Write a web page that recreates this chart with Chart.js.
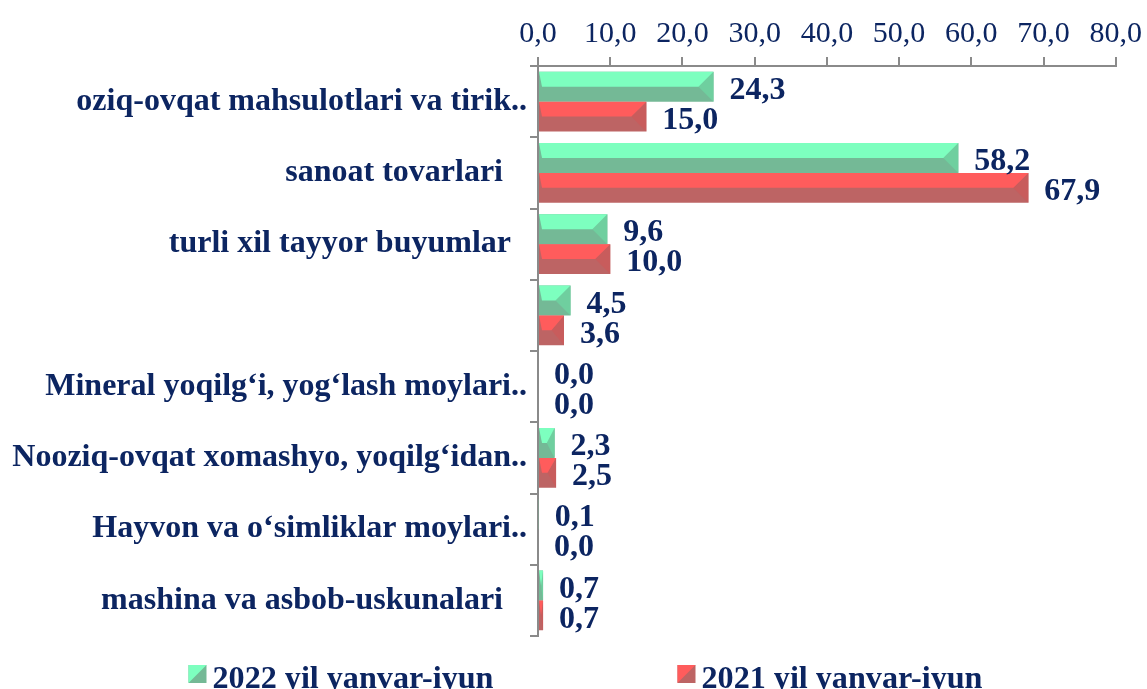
<!DOCTYPE html>
<html>
<head>
<meta charset="utf-8">
<script src="https://cdn.jsdelivr.net/npm/chart.js@4/dist/chart.umd.min.js"></script>
<style>
  html, body { margin: 0; padding: 0; background: #ffffff; }
  #wrap { width: 1147px; height: 689px; position: relative; }
</style>
</head>
<body>
<div id="wrap"><canvas id="c"></canvas></div>
<script>
const categories = [
  'oziq-ovqat mahsulotlari va tirik..',
  'sanoat tovarlari   ',
  'turli xil tayyor buyumlar  ',
  '',
  'Mineral yoqilg\u2018i, yog\u2018lash moylari..',
  'Nooziq-ovqat xomashyo, yoqilg\u2018idan..',
  'Hayvon va o\u2018simliklar moylari..',
  'mashina va asbob-uskunalari   '
];
const seriesNames = ['2022 yil yanvar-iyun', '2021 yil yanvar-iyun'];
const values2022 = [24.3, 58.2, 9.6, 4.5, 0.0, 2.3, 0.1, 0.7];
const values2021 = [15.0, 67.9, 10.0, 3.6, 0.0, 2.5, 0.0, 0.7];
const xTicks = [0, 10, 20, 30, 40, 50, 60, 70, 80];

const NAVY = '#0c2561';
const SERIF = '"Liberation Serif", "Times New Roman", serif';
const palette = [
  { light: '#7dffbf', dark: '#74b996', mid: '#6fcf9f' },
  { light: '#ff5c5c', dark: '#bd6464', mid: '#c85c5c' }
];
const fmt = v => v.toFixed(1).replace('.', ',');

const bevelPlugin = {
  id: 'bevel',
  afterDatasetsDraw(chart) {
    const ctx = chart.ctx;
    ctx.save();
    chart.data.datasets.forEach((ds, di) => {
      const meta = chart.getDatasetMeta(di);
      const col = palette[di];
      meta.data.forEach(el => {
        const p = el.getProps(['x', 'y', 'base', 'height'], true);
        const left = Math.min(p.base, p.x), right = Math.max(p.base, p.x);
        const w = right - left;
        if (w < 0.5) return;
        const top = p.y - p.height / 2, bot = p.y + p.height / 2, mid = p.y;
        const bev = Math.min(p.height / 2, w / 2);
        const lbev = Math.min(3, w / 2);
        ctx.fillStyle = col.mid;
        ctx.beginPath();
        ctx.moveTo(right, top); ctx.lineTo(right, bot); ctx.lineTo(right - bev, mid); ctx.closePath();
        ctx.fill();
        ctx.fillStyle = col.light;
        ctx.beginPath();
        ctx.moveTo(left, top); ctx.lineTo(right, top); ctx.lineTo(right - bev, mid); ctx.lineTo(left + lbev, mid); ctx.closePath();
        ctx.fill();
      });
    });
    ctx.restore();
  }
};

const valueLabelPlugin = {
  id: 'valueLabels',
  afterDatasetsDraw(chart) {
    const ctx = chart.ctx;
    ctx.save();
    ctx.font = 'bold 32px ' + SERIF;
    ctx.fillStyle = NAVY;
    ctx.textAlign = 'left';
    ctx.textBaseline = 'middle';
    chart.data.datasets.forEach((ds, di) => {
      const meta = chart.getDatasetMeta(di);
      meta.data.forEach((el, i) => {
        const p = el.getProps(['x', 'y'], true);
        ctx.fillText(fmt(ds.data[i]), p.x + 16, p.y + 4);
      });
    });
    ctx.restore();
  }
};

const legendPlugin = {
  id: 'customLegend',
  afterDraw(chart) {
    const ctx = chart.ctx;
    ctx.save();
    ctx.font = 'bold 32px ' + SERIF;
    const targetW = 281;
    const box = 18, gapBox = 6, gapItems = 184;
    const items = chart.data.datasets.map((ds, di) => {
      const tw = ctx.measureText(ds.label).width;
      return { label: ds.label, tw, sx: targetW / tw, col: palette[di] };
    });
    const total = items.reduce((s, it) => s + box + gapBox + it.tw * it.sx, 0) + gapItems * (items.length - 1);
    let x = (chart.width - total) / 2 + 12;
    const baseY = 688;
    items.forEach(it => {
      const by = 665;
      ctx.fillStyle = it.col.dark;
      ctx.fillRect(x, by, box, box);
      ctx.fillStyle = it.col.light;
      ctx.beginPath();
      ctx.moveTo(x, by); ctx.lineTo(x + box, by); ctx.lineTo(x + box / 2, by + box / 2); ctx.lineTo(x, by + box); ctx.closePath();
      ctx.fill();
      x += box + gapBox;
      ctx.save();
      ctx.translate(x, baseY);
      ctx.scale(it.sx, 1);
      ctx.fillStyle = NAVY;
      ctx.textAlign = 'left';
      ctx.textBaseline = 'alphabetic';
      ctx.fillText(it.label, 0, 0);
      ctx.restore();
      x += it.tw * it.sx + gapItems;
    });
    ctx.restore();
  }
};

new Chart(document.getElementById('c'), {
  type: 'bar',
  data: {
    labels: categories,
    datasets: [
      { label: seriesNames[0], data: values2022, backgroundColor: palette[0].dark, borderWidth: 0 },
      { label: seriesNames[1], data: values2021, backgroundColor: palette[1].dark, borderWidth: 0 }
    ]
  },
  options: {
    indexAxis: 'y',
    responsive: true,
    maintainAspectRatio: false,
    animation: false,
    categoryPercentage: 0.84,
    barPercentage: 1.0,
    layout: { padding: { left: 0, right: 21, top: 0, bottom: 53 } },
    plugins: {
      legend: { display: false },
      tooltip: { enabled: false }
    },
    scales: {
      x: {
        position: 'top',
        min: 0, max: 80,
        afterBuildTicks(scale) { scale.ticks = xTicks.map(v => ({ value: v })); },
        afterFit(scale) { scale.height = 66; },
        ticks: {
          callback: v => fmt(v),
          color: NAVY,
          font: { family: SERIF, size: 30 },
          padding: 5,
          maxRotation: 0
        },
        grid: { drawOnChartArea: false, drawTicks: true, tickLength: 9, color: '#8a8a8a', lineWidth: 2 },
        border: { display: true, color: '#8a8a8a', width: 2 }
      },
      y: {
        afterFit(scale) { scale.width = 538; },
        ticks: {
          color: NAVY,
          font: { family: SERIF, size: 32, weight: 'bold' },
          padding: 3,
          autoSkip: false
        },
        grid: { drawOnChartArea: false, drawTicks: true, tickLength: 8, color: '#8a8a8a', lineWidth: 2, offset: true },
        border: { display: true, color: '#8a8a8a', width: 2 }
      }
    }
  },
  plugins: [bevelPlugin, valueLabelPlugin, legendPlugin]
});
</script>
</body>
</html>
